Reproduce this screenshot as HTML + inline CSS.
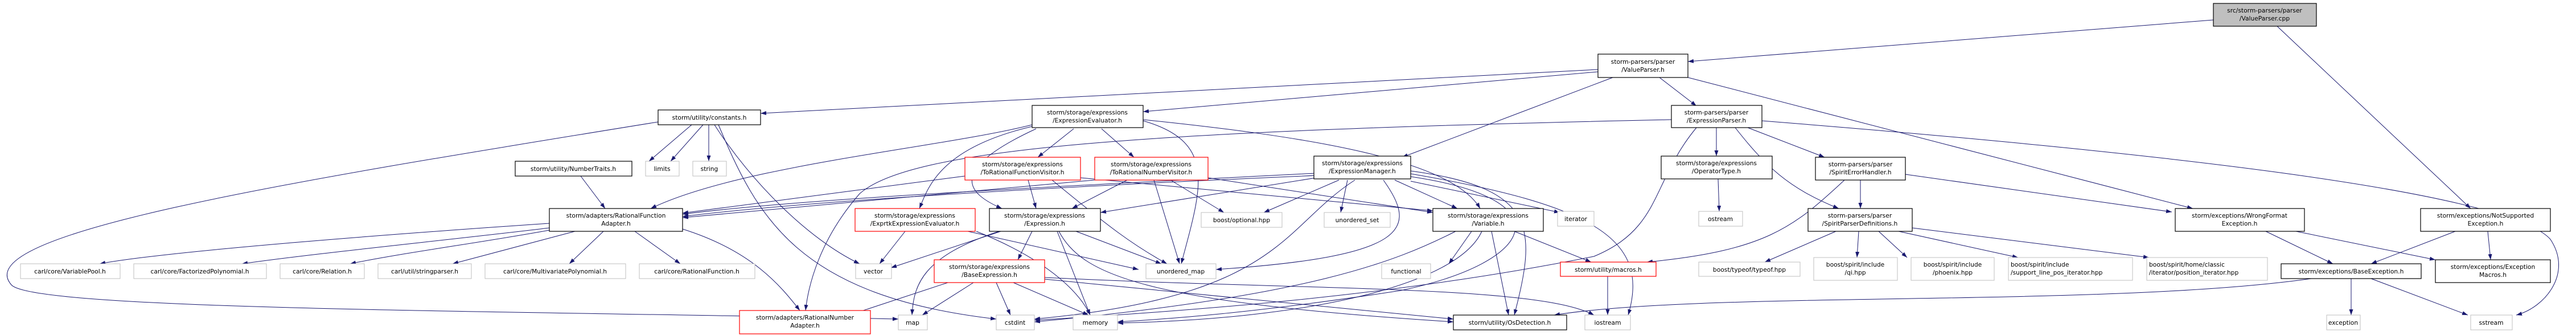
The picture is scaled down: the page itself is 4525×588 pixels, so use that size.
<!DOCTYPE html>
<html><head><meta charset="utf-8"><style>
html,body{margin:0;padding:0;background:#fff;}
svg{display:block;}
text{font-family:"DejaVu Sans","Liberation Sans",sans-serif;font-size:10.7px;fill:#000;}
.n{fill:#fff;stroke:#000;stroke-width:1.2;}
.g{fill:#fff;stroke:#bfbfbf;stroke-width:1;}
.r{fill:#fff;stroke:#ff0000;stroke-width:1.2;}
.c{fill:#bfbfbf;stroke:#000;stroke-width:1.2;}
.e{fill:none;stroke:#191970;stroke-width:1;marker-end:url(#a);}
</style></head><body>
<svg width="4525" height="588" viewBox="0 0 4525 588" xmlns="http://www.w3.org/2000/svg">
<defs><marker id="a" viewBox="0 0 10 10" refX="10" refY="5" markerWidth="10" markerHeight="10" markerUnits="userSpaceOnUse" orient="auto"><path d="M0,1.5 L10,5 L0,8.5 z" fill="#191970"/></marker></defs>

<g>
<path class="e" d="M3888,35 L2965,108"/>
<path class="e" d="M4000,46 L4340,366"/>
<path class="e" d="M2807,122 L1336,199"/>
<path class="e" d="M2807,126 L2008,196"/>
<path class="e" d="M2833,136 L2463,276"/>
<path class="e" d="M2915,136 L2980,186"/>
<path class="e" d="M2965,136 L3852,366"/>
<path class="e" d="M1215,219 L1140,283"/>
<path class="e" d="M1235,219 L1178,283"/>
<path class="e" d="M1245,219 L1245,283"/>
<path class="e" d="M1156,214 C500,320 -60,410 20,500 C60,545 900,545 1578,560"/>
<path class="e" d="M1255,219 C1320,320 1420,420 1510,463"/>
<path class="e" d="M1262,219 C1330,380 1400,520 1750,560"/>
<path class="e" d="M1020,309 L1063,366"/>
<path class="e" d="M965,392 C700,410 300,440 175,463"/>
<path class="e" d="M965,400 C800,420 550,445 425,463"/>
<path class="e" d="M965,404 C850,425 700,445 615,463"/>
<path class="e" d="M1010,406 L795,463"/>
<path class="e" d="M1060,406 L1000,463"/>
<path class="e" d="M1115,406 L1195,463"/>
<path class="e" d="M1199,402 C1320,440 1370,500 1405,545"/>
<path class="e" d="M1813,219 C1650,260 1300,290 1143,366"/>
<path class="e" d="M1813,222 C1650,260 1630,330 1615,366"/>
<path class="e" d="M1820,226 C1660,300 1700,340 1760,366"/>
<path class="e" d="M1886,226 L1823,276"/>
<path class="e" d="M1935,226 L1992,276"/>
<path class="e" d="M2008,212 C2140,250 2110,330 2075,463"/>
<path class="e" d="M2008,210 C2300,240 2550,280 2600,366"/>
<path class="e" d="M2936,210 C2000,230 1600,260 1510,340 C1440,420 1420,500 1415,545"/>
<path class="e" d="M3015,224 L3015,274"/>
<path class="e" d="M3070,224 L3205,276"/>
<path class="e" d="M3048,224 C3100,290 3140,330 3230,366"/>
<path class="e" d="M3095,212 C3700,260 4400,330 4480,420 C4520,480 4470,540 4420,553"/>
<path class="e" d="M2980,224 C2900,320 2920,400 2800,450 C2450,520 2100,545 1817,562"/>
<path class="e" d="M3018,314 L3020,371"/>
<path class="e" d="M3268,316 L3268,366"/>
<path class="e" d="M3347,306 L3815,372"/>
<path class="e" d="M3240,316 C3150,400 3100,440 2893,460"/>
<path class="e" d="M3225,406 L3100,460"/>
<path class="e" d="M3265,406 L3262,452"/>
<path class="e" d="M3300,406 L3350,452"/>
<path class="e" d="M3335,406 L3545,452"/>
<path class="e" d="M3359,400 L3775,452"/>
<path class="e" d="M3980,406 L4098,463"/>
<path class="e" d="M4033,406 L4278,456"/>
<path class="e" d="M4313,406 L4165,463"/>
<path class="e" d="M4370,406 L4375,456"/>
<path class="e" d="M4130,489 L4130,553"/>
<path class="e" d="M4165,489 L4335,553"/>
<path class="e" d="M4060,489 C3700,540 3000,510 2730,553"/>
<path class="e" d="M2312,304 C1800,330 1400,350 1199,376"/>
<path class="e" d="M2312,308 C1800,330 1400,355 1199,380"/>
<path class="e" d="M2312,312 L1933,373"/>
<path class="e" d="M2352,316 L2220,373"/>
<path class="e" d="M2367,316 L2355,373"/>
<path class="e" d="M2450,316 L2560,366"/>
<path class="e" d="M2478,318 L2740,373"/>
<path class="e" d="M2430,316 C2490,400 2480,450 2136,473"/>
<path class="e" d="M2380,316 C2250,400 2250,520 1817,560"/>
<path class="e" d="M2478,300 C2700,330 2700,400 2660,553"/>
<path class="e" d="M2478,305 C2800,360 2900,420 2860,553"/>
<path class="e" d="M2478,310 C2750,350 2700,460 2460,510 C2200,550 2050,560 1963,565"/>
<path class="e" d="M1695,309 L1199,374"/>
<path class="e" d="M1806,316 L1820,366"/>
<path class="e" d="M1848,316 C1950,400 1990,430 2050,463"/>
<path class="e" d="M1898,312 L2517,370"/>
<path class="e" d="M1923,316 L1199,382"/>
<path class="e" d="M1980,316 L1883,366"/>
<path class="e" d="M2027,316 L2072,463"/>
<path class="e" d="M2056,316 L2150,373"/>
<path class="e" d="M2122,312 L2517,373"/>
<path class="e" d="M1590,406 L1545,463"/>
<path class="e" d="M1700,406 L2000,473"/>
<path class="e" d="M1715,406 C1850,460 1900,520 1915,553"/>
<path class="e" d="M1758,406 L1565,470"/>
<path class="e" d="M1813,406 L1788,456"/>
<path class="e" d="M1890,406 L2040,463"/>
<path class="e" d="M1857,406 L1915,553"/>
<path class="e" d="M1860,406 C1900,480 2000,530 2553,565"/>
<path class="e" d="M1755,406 C1620,450 1605,500 1602,553"/>
<path class="e" d="M1710,496 L1620,553"/>
<path class="e" d="M1750,496 L1775,553"/>
<path class="e" d="M1780,496 L1912,553"/>
<path class="e" d="M1835,490 L2553,560"/>
<path class="e" d="M1835,487 C2300,510 2700,500 2800,553"/>
<path class="e" d="M1665,496 L1495,552"/>
<path class="e" d="M2585,406 L2545,463"/>
<path class="e" d="M2660,406 L2795,460"/>
<path class="e" d="M2620,406 L2650,553"/>
<path class="e" d="M2557,406 C2450,460 2300,520 1817,565"/>
<path class="e" d="M2603,406 C2560,500 2300,560 1963,567"/>
<path class="e" d="M2824,485 L2824,553"/>
</g>

<g>
<rect class="c" x="3888" y="6" width="181" height="40"/>
<text x="3978" y="22" text-anchor="middle">src/storm-parsers/parser</text>
<text x="3978" y="36" text-anchor="middle">/ValueParser.cpp</text>

<rect class="n" x="2807" y="95" width="158" height="41"/>
<text x="2886" y="112" text-anchor="middle">storm-parsers/parser</text>
<text x="2886" y="126" text-anchor="middle">/ValueParser.h</text>

<rect class="n" x="1156" y="193" width="180" height="26"/>
<text x="1246" y="210" text-anchor="middle">storm/utility/constants.h</text>

<rect class="n" x="1813" y="185" width="195" height="39"/>
<text x="1910" y="201" text-anchor="middle">storm/storage/expressions</text>
<text x="1910" y="215" text-anchor="middle">/ExpressionEvaluator.h</text>

<rect class="n" x="2936" y="185" width="159" height="39"/>
<text x="3015" y="201" text-anchor="middle">storm-parsers/parser</text>
<text x="3015" y="215" text-anchor="middle">/ExpressionParser.h</text>

<rect class="n" x="905" y="283" width="205" height="26"/>
<text x="1007" y="300" text-anchor="middle">storm/utility/NumberTraits.h</text>
<rect class="g" x="1134" y="283" width="59" height="26"/>
<text x="1163" y="300" text-anchor="middle">limits</text>
<rect class="g" x="1217" y="283" width="59" height="26"/>
<text x="1246" y="300" text-anchor="middle">string</text>

<rect class="r" x="1695" y="276" width="203" height="40"/>
<text x="1796" y="292" text-anchor="middle">storm/storage/expressions</text>
<text x="1796" y="306" text-anchor="middle">/ToRationalFunctionVisitor.h</text>
<rect class="r" x="1923" y="276" width="199" height="40"/>
<text x="2022" y="292" text-anchor="middle">storm/storage/expressions</text>
<text x="2022" y="306" text-anchor="middle">/ToRationalNumberVisitor.h</text>
<rect class="n" x="2308" y="274" width="170" height="40"/>
<text x="2393" y="290" text-anchor="middle">storm/storage/expressions</text>
<text x="2393" y="304" text-anchor="middle">/ExpressionManager.h</text>
<rect class="n" x="2918" y="274" width="195" height="40"/>
<text x="3015" y="290" text-anchor="middle">storm/storage/expressions</text>
<text x="3015" y="304" text-anchor="middle">/OperatorType.h</text>
<rect class="n" x="3189" y="276" width="158" height="40"/>
<text x="3268" y="292" text-anchor="middle">storm-parsers/parser</text>
<text x="3268" y="306" text-anchor="middle">/SpiritErrorHandler.h</text>

<rect class="n" x="965" y="366" width="234" height="40"/>
<text x="1082" y="382" text-anchor="middle">storm/adapters/RationalFunction</text>
<text x="1082" y="396" text-anchor="middle">Adapter.h</text>
<rect class="r" x="1502" y="366" width="211" height="40"/>
<text x="1607" y="382" text-anchor="middle">storm/storage/expressions</text>
<text x="1607" y="396" text-anchor="middle">/ExprtkExpressionEvaluator.h</text>
<rect class="n" x="1738" y="366" width="195" height="40"/>
<text x="1835" y="382" text-anchor="middle">storm/storage/expressions</text>
<text x="1835" y="396" text-anchor="middle">/Expression.h</text>
<rect class="g" x="2110" y="373" width="142" height="26"/>
<text x="2181" y="390" text-anchor="middle">boost/optional.hpp</text>
<rect class="g" x="2326" y="373" width="116" height="26"/>
<text x="2384" y="390" text-anchor="middle">unordered_set</text>
<rect class="n" x="2517" y="366" width="194" height="40"/>
<text x="2614" y="382" text-anchor="middle">storm/storage/expressions</text>
<text x="2614" y="396" text-anchor="middle">/Variable.h</text>
<rect class="g" x="2736" y="371" width="64" height="26"/>
<text x="2768" y="388" text-anchor="middle">iterator</text>
<rect class="g" x="2984" y="371" width="77" height="26"/>
<text x="3022" y="388" text-anchor="middle">ostream</text>
<rect class="n" x="3176" y="366" width="183" height="40"/>
<text x="3267" y="382" text-anchor="middle">storm-parsers/parser</text>
<text x="3267" y="396" text-anchor="middle">/SpiritParserDefinitions.h</text>
<rect class="n" x="3821" y="366" width="227" height="40"/>
<text x="3934" y="382" text-anchor="middle">storm/exceptions/WrongFormat</text>
<text x="3934" y="396" text-anchor="middle">Exception.h</text>
<rect class="n" x="4252" y="366" width="228" height="40"/>
<text x="4366" y="382" text-anchor="middle">storm/exceptions/NotSupported</text>
<text x="4366" y="396" text-anchor="middle">Exception.h</text>

<rect class="g" x="36" y="463" width="175" height="26"/>
<text x="123" y="480" text-anchor="middle">carl/core/VariablePool.h</text>
<rect class="g" x="235" y="463" width="233" height="26"/>
<text x="351" y="480" text-anchor="middle">carl/core/FactorizedPolynomial.h</text>
<rect class="g" x="492" y="463" width="148" height="26"/>
<text x="566" y="480" text-anchor="middle">carl/core/Relation.h</text>
<rect class="g" x="664" y="463" width="164" height="26"/>
<text x="746" y="480" text-anchor="middle">carl/util/stringparser.h</text>
<rect class="g" x="852" y="463" width="247" height="26"/>
<text x="975" y="480" text-anchor="middle">carl/core/MultivariatePolynomial.h</text>
<rect class="g" x="1123" y="463" width="203" height="26"/>
<text x="1224" y="480" text-anchor="middle">carl/core/RationalFunction.h</text>
<rect class="g" x="1503" y="463" width="63" height="26"/>
<text x="1534" y="480" text-anchor="middle">vector</text>
<rect class="r" x="1641" y="456" width="194" height="40"/>
<text x="1738" y="472" text-anchor="middle">storm/storage/expressions</text>
<text x="1738" y="486" text-anchor="middle">/BaseExpression.h</text>
<rect class="g" x="2013" y="463" width="123" height="26"/>
<text x="2074" y="480" text-anchor="middle">unordered_map</text>
<rect class="g" x="2427" y="463" width="86" height="26"/>
<text x="2470" y="480" text-anchor="middle">functional</text>
<rect class="r" x="2741" y="460" width="168" height="25"/>
<text x="2825" y="477" text-anchor="middle">storm/utility/macros.h</text>
<rect class="g" x="2984" y="460" width="178" height="25"/>
<text x="3073" y="477" text-anchor="middle">boost/typeof/typeof.hpp</text>
<rect class="g" x="3186" y="452" width="147" height="40"/>
<text x="3259" y="468" text-anchor="middle">boost/spirit/include</text>
<text x="3259" y="482" text-anchor="middle">/qi.hpp</text>
<rect class="g" x="3357" y="452" width="146" height="40"/>
<text x="3430" y="468" text-anchor="middle">boost/spirit/include</text>
<text x="3430" y="482" text-anchor="middle">/phoenix.hpp</text>
<rect class="g" x="3528" y="452" width="218" height="40"/>
<text x="3532" y="468">boost/spirit/include</text>
<text x="3532" y="482">/support_line_pos_iterator.hpp</text>
<rect class="g" x="3771" y="452" width="212" height="40"/>
<text x="3775" y="468">boost/spirit/home/classic</text>
<text x="3775" y="482">/iterator/position_iterator.hpp</text>
<rect class="n" x="4007" y="463" width="246" height="26"/>
<text x="4130" y="480" text-anchor="middle">storm/exceptions/BaseException.h</text>
<rect class="n" x="4278" y="456" width="202" height="40"/>
<text x="4379" y="472" text-anchor="middle">storm/exceptions/Exception</text>
<text x="4379" y="486" text-anchor="middle">Macros.h</text>

<rect class="r" x="1299" y="545" width="230" height="41"/>
<text x="1414" y="561" text-anchor="middle">storm/adapters/RationalNumber</text>
<text x="1414" y="575" text-anchor="middle">Adapter.h</text>
<rect class="g" x="1578" y="553" width="51" height="26"/>
<text x="1603" y="570" text-anchor="middle">map</text>
<rect class="g" x="1750" y="553" width="67" height="26"/>
<text x="1783" y="570" text-anchor="middle">cstdint</text>
<rect class="g" x="1885" y="553" width="78" height="26"/>
<text x="1924" y="570" text-anchor="middle">memory</text>
<rect class="n" x="2553" y="553" width="199" height="26"/>
<text x="2652" y="570" text-anchor="middle">storm/utility/OsDetection.h</text>
<rect class="g" x="2784" y="553" width="80" height="26"/>
<text x="2824" y="570" text-anchor="middle">iostream</text>
<rect class="g" x="4087" y="553" width="59" height="26"/>
<text x="4116" y="570" text-anchor="middle">exception</text>
<rect class="g" x="4340" y="553" width="73" height="26"/>
<text x="4376" y="570" text-anchor="middle">sstream</text>
</g>
</svg>
</body></html>
